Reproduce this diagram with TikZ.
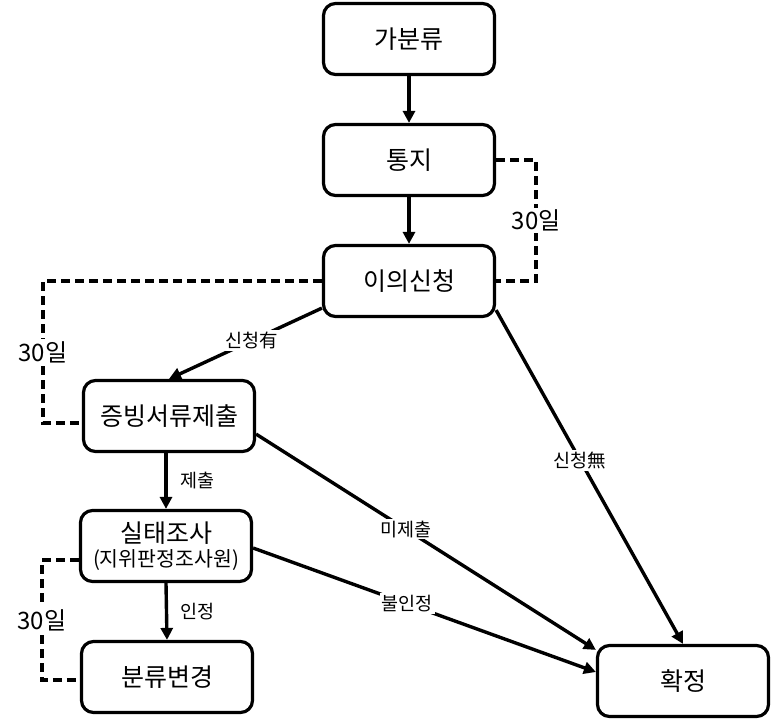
\documentclass[tikz,border=0pt]{standalone}
\usepackage{fontspec}
\setmainfont{Noto Sans CJK KR}
\usetikzlibrary{arrows.meta, calc}

\tikzset{
  stage/.style={draw, line width=3.2pt, rounded corners=12pt, minimum width=171pt, minimum height=71pt, align=center, font=\fontsize{25}{28}\selectfont},
  flow/.style={line width=3.4pt, -{Triangle[length=12pt,width=12pt]}},
  wait/.style={line width=3.4pt, dash pattern=on 9pt off 5pt},
  cond/.style={fill=white, inner sep=2pt, font=\fontsize{18.5}{22}\selectfont},
  days/.style={fill=white, inner sep=2pt, font=\fontsize{24}{28}\selectfont},
}

\begin{document}
\begin{tikzpicture}[x=1pt, y=-1pt]
\useasboundingbox (0,0) rectangle (771,721);

\node[stage] (gabunryu) at (409,39) {가분류};
\node[stage] (tongji) at (409,160) {통지};
\node[stage] (iui) at (409,281) {이의신청};
\node[stage] (jeungbing) at (169,416) {증빙서류제출};
\node[stage] (siltae) at (166,546) {실태조사\\[-4pt]{\fontsize{20.5}{23}\selectfont(지위판정조사원)}};
\node[stage] (byeongyeong) at (167,677) {분류변경};
\node[stage] (hwakjeong) at (683,681) {확정};

\draw[flow] (gabunryu) -- (tongji);
\draw[flow] (tongji) -- (iui);
\draw[flow] ($(iui.south west)+(0,-10)$) -- node[cond, pos=0.46] {신청有} (jeungbing.north);
\draw[flow] (siltae.north |- jeungbing.south) -- node[right=9pt] {\fontsize{18.5}{22}\selectfont 제출} (siltae.north);
\draw[flow] (siltae.south) -- node[right=9pt] {\fontsize{18.5}{22}\selectfont 인정} (byeongyeong.north);
\draw[flow] ($(jeungbing.south east)+(0,-19)$) -- node[cond, pos=0.44] {미제출} ($(hwakjeong.north west)+(0,6)$);
\draw[flow] ($(siltae.east)+(0,2)$) -- node[cond, pos=0.45] {불인정} ($(hwakjeong.west)+(0,-9)$);
\draw[flow] ($(iui.south east)+(0,-8)$) -- node[cond, pos=0.45] {신청無} (hwakjeong.north);

\draw[wait] (tongji.east) -- ++(40,0) |- node[days, pos=0.25] {30일} (iui.east);
\draw[wait] (iui.west) -- ++(-279,0) |- node[days, pos=0.25] {30일} ($(jeungbing.west)+(0,7)$);
\draw[wait] ($(siltae.west)+(0,14)$) -- ++(-37,0) |- node[days, pos=0.25] {30일} ($(byeongyeong.west)+(0,3)$);
\end{tikzpicture}
\end{document}
